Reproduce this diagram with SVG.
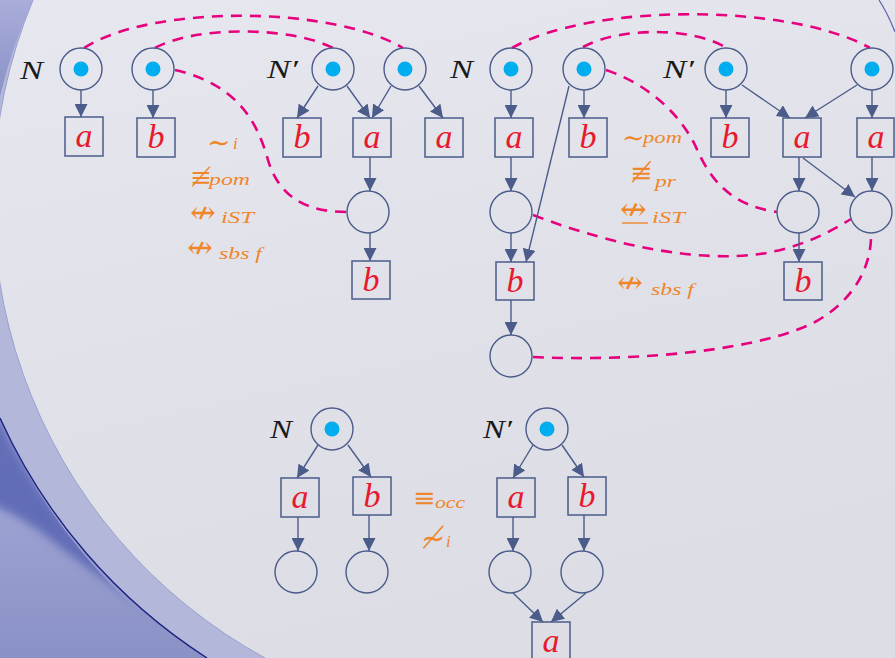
<svg xmlns="http://www.w3.org/2000/svg" width="895" height="658" viewBox="0 0 895 658">
  <defs>
    <linearGradient id="paper" x1="0" y1="0" x2="0.3" y2="1">
      <stop offset="0" stop-color="#e7e7ef"/>
      <stop offset="0.6" stop-color="#e0e1e8"/>
      <stop offset="1" stop-color="#dcdde5"/>
    </linearGradient>
    <linearGradient id="outer" x1="0" y1="0" x2="0" y2="1">
      <stop offset="0" stop-color="#a9addb"/>
      <stop offset="1" stop-color="#8a91c5"/>
    </linearGradient>
    <filter id="soft" x="-20%" y="-20%" width="140%" height="140%">
      <feGaussianBlur stdDeviation="4"/>
    </filter>
    <clipPath id="beyond">
      <path d="M0,418 A557,557 0 0 0 198,658 L0,658 Z"/>
    </clipPath>
    <marker id="ah" markerUnits="userSpaceOnUse" viewBox="0 0 13 13" markerWidth="13" markerHeight="13" refX="13" refY="6.5" orient="auto">
      <path d="M0,0 L13,6.5 L0,13 z" fill="#4b5b8a"/>
    </marker>
    <style>
      .edge { stroke: #4b5b8a; stroke-width: 1.4; fill: none; marker-end: url(#ah); }
      .place { fill: none; stroke: #4b5b8a; stroke-width: 1.4; }
      .tok { fill: #00aeef; }
      .trans { fill: none; stroke: #4b5b8a; stroke-width: 1.5; }
      .lbl { font-family: "Liberation Serif", serif; font-style: italic; font-size: 34px; fill: #e8192c; text-anchor: middle; }
      .net { font-family: "Liberation Serif", serif; font-style: italic; font-size: 25px; fill: #1a1a1a; }
      .sym { font-family: "DejaVu Sans ExtraLight", "DejaVu Serif", "DejaVu Sans", sans-serif; font-weight: 200; fill: #f0862a; }
      .sub { font-family: "Liberation Serif", serif; font-style: italic; font-size: 17px; fill: #f0862a; }
      .link { fill: none; stroke: #e6007e; stroke-width: 2.6; stroke-dasharray: 11 8; }
    </style>
  </defs>

  <!-- backdrop: pale page with the blue swoosh on the left edge -->
  <rect x="0" y="0" width="895" height="658" fill="url(#paper)"/>
  <path d="M0,0 L33,0 A522,522 0 0 0 265,658 L0,658 Z" fill="#b3b7da"/>
  <path d="M0,418 A557,557 0 0 0 207,658 L0,658 Z" fill="url(#outer)"/>
  <path d="M0,0 L33,0 A522,522 0 0 0 0,96 Z" fill="url(#outer)"/>
  <g clip-path="url(#beyond)">
    <path d="M-20,410 L0,418 A557,557 0 0 0 160,618 Q95,575 45,535 Q15,512 -20,500 Z" fill="#5361b0" opacity="0.8" filter="url(#soft)"/>
  </g>
  <path d="M0,418 A557,557 0 0 0 207,658" fill="none" stroke="#1d2280" stroke-width="1.4"/>
  <path d="M33,0 A522,522 0 0 0 265,658" fill="none" stroke="#9aa0d0" stroke-width="1"/>
  <path d="M879,0 Q888,14 895,32" fill="none" stroke="#5a64b2" stroke-width="1.2"/>

  <!-- dashed correspondences -->
  <g id="links">
    <path class="link" d="M84,48 C150,5 330,5 403,48"/>
    <path class="link" d="M155,48 C195,26 290,26 333,48"/>
    <path class="link" d="M175,70 C240,85 258,125 268,160 C280,200 310,212 347,212"/>
    <path class="link" d="M512,48 C590,3 790,3 870,48"/>
    <path class="link" d="M583,47 C620,27 690,27 725,47"/>
    <path class="link" d="M606,70 C650,85 680,115 695,145 C710,180 730,205 777,212"/>
    <path class="link" d="M533,215 C620,248 700,262 760,254 C800,248 830,232 851,219"/>
    <path class="link" d="M533,357 C640,362 760,350 815,322 C855,300 872,265 871,233"/>
  </g>

  <!-- arcs -->
  <g id="connectors">
    <path class="edge" d="M81,90 L81,117"/>
    <path class="edge" d="M153,90 L153,118"/>

    <path class="edge" d="M318,86 L297,118"/>
    <path class="edge" d="M347,86 L370,118"/>
    <path class="edge" d="M391,86 L372,118"/>
    <path class="edge" d="M419,86 L443,118"/>
    <path class="edge" d="M370,157 L370,191"/>
    <path class="edge" d="M370,233 L370,261"/>

    <path class="edge" d="M511,90 L511,118"/>
    <path class="edge" d="M584,90 L584,118"/>
    <path class="edge" d="M569,86 L526,262"/>
    <path class="edge" d="M511,157 L511,191"/>
    <path class="edge" d="M511,233 L511,262"/>
    <path class="edge" d="M511,300 L511,335"/>

    <path class="edge" d="M726,90 L726,118"/>
    <path class="edge" d="M742,85 L790,118"/>
    <path class="edge" d="M857,85 L805,118"/>
    <path class="edge" d="M872,90 L872,118"/>
    <path class="edge" d="M799,157 L799,191"/>
    <path class="edge" d="M803,158 L855,197"/>
    <path class="edge" d="M872,157 L872,191"/>
    <path class="edge" d="M799,233 L799,262"/>

    <path class="edge" d="M318,445 L297,478"/>
    <path class="edge" d="M348,445 L371,477"/>
    <path class="edge" d="M298,517 L298,551"/>
    <path class="edge" d="M369,515 L369,551"/>

    <path class="edge" d="M533,445 L513,478"/>
    <path class="edge" d="M562,445 L584,477"/>
    <path class="edge" d="M513,517 L513,551"/>
    <path class="edge" d="M584,515 L584,551"/>
    <path class="edge" d="M513,593 L543,622"/>
    <path class="edge" d="M586,593 L551,622"/>
  </g>

  <!-- net labels -->
  <text class="net" x="20" y="79" textLength="23" lengthAdjust="spacingAndGlyphs">N</text>
  <text class="net" x="267" y="78" textLength="31" lengthAdjust="spacingAndGlyphs">N′</text>
  <text class="net" x="450" y="78" textLength="23" lengthAdjust="spacingAndGlyphs">N</text>
  <text class="net" x="663" y="78" textLength="31" lengthAdjust="spacingAndGlyphs">N′</text>
  <text class="net" x="270" y="438" textLength="22" lengthAdjust="spacingAndGlyphs">N</text>
  <text class="net" x="483" y="438" textLength="29" lengthAdjust="spacingAndGlyphs">N′</text>

  <!-- places -->
  <g id="p1"><circle class="place" cx="81" cy="69" r="21"/><circle class="tok" cx="81" cy="69" r="7.5"/></g>
  <g id="p2"><circle class="place" cx="153" cy="69" r="21"/><circle class="tok" cx="153" cy="69" r="7.5"/></g>
  <g id="p3"><circle class="place" cx="333" cy="69" r="21"/><circle class="tok" cx="333" cy="69" r="7.5"/></g>
  <g id="p4"><circle class="place" cx="405" cy="69" r="21"/><circle class="tok" cx="405" cy="69" r="7.5"/></g>
  <g id="p5"><circle class="place" cx="368" cy="212" r="21"/></g>

  <g id="q1"><circle class="place" cx="511" cy="69" r="21"/><circle class="tok" cx="511" cy="69" r="7.5"/></g>
  <g id="q2"><circle class="place" cx="584" cy="69" r="21"/><circle class="tok" cx="584" cy="69" r="7.5"/></g>
  <g id="q3"><circle class="place" cx="511" cy="212" r="21"/></g>
  <g id="q4"><circle class="place" cx="511" cy="356" r="21"/></g>

  <g id="r1"><circle class="place" cx="726" cy="69" r="21"/><circle class="tok" cx="726" cy="69" r="7.5"/></g>
  <g id="r2"><circle class="place" cx="872" cy="69" r="21"/><circle class="tok" cx="872" cy="69" r="7.5"/></g>
  <g id="r3"><circle class="place" cx="798" cy="212" r="21"/></g>
  <g id="r4"><circle class="place" cx="871" cy="212" r="21"/></g>

  <g id="s1"><circle class="place" cx="332" cy="429" r="21"/><circle class="tok" cx="332" cy="429" r="7.5"/></g>
  <g id="s2"><circle class="place" cx="296" cy="572" r="21"/></g>
  <g id="s3"><circle class="place" cx="367" cy="572" r="21"/></g>

  <g id="t1"><circle class="place" cx="547" cy="429" r="21"/><circle class="tok" cx="547" cy="429" r="7.5"/></g>
  <g id="t2"><circle class="place" cx="510" cy="572" r="21"/></g>
  <g id="t3"><circle class="place" cx="582" cy="572" r="21"/></g>

  <!-- transitions -->
  <g id="ta1"><rect class="trans" x="65" y="117" width="38" height="39"/><text class="lbl" x="84" y="147">a</text></g>
  <g id="tb1"><rect class="trans" x="137" y="118" width="38" height="39"/><text class="lbl" x="156" y="148">b</text></g>

  <g id="tb2"><rect class="trans" x="283" y="118" width="38" height="39"/><text class="lbl" x="302" y="148">b</text></g>
  <g id="ta2"><rect class="trans" x="353" y="118" width="38" height="39"/><text class="lbl" x="372" y="148">a</text></g>
  <g id="ta3"><rect class="trans" x="425" y="118" width="38" height="39"/><text class="lbl" x="444" y="148">a</text></g>
  <g id="tb3"><rect class="trans" x="352" y="261" width="38" height="38"/><text class="lbl" x="371" y="291">b</text></g>

  <g id="ta4"><rect class="trans" x="495" y="118" width="38" height="39"/><text class="lbl" x="514" y="148">a</text></g>
  <g id="tb4"><rect class="trans" x="569" y="118" width="38" height="39"/><text class="lbl" x="588" y="148">b</text></g>
  <g id="tb5"><rect class="trans" x="496" y="262" width="38" height="38"/><text class="lbl" x="515" y="292">b</text></g>

  <g id="tb6"><rect class="trans" x="711" y="118" width="38" height="39"/><text class="lbl" x="730" y="148">b</text></g>
  <g id="ta5"><rect class="trans" x="783" y="118" width="38" height="39"/><text class="lbl" x="802" y="148">a</text></g>
  <g id="ta6"><rect class="trans" x="857" y="118" width="37" height="39"/><text class="lbl" x="876" y="148">a</text></g>
  <g id="tb7"><rect class="trans" x="784" y="262" width="38" height="38"/><text class="lbl" x="803" y="292">b</text></g>

  <g id="ta7"><rect class="trans" x="281" y="478" width="38" height="39"/><text class="lbl" x="300" y="508">a</text></g>
  <g id="tb8"><rect class="trans" x="353" y="477" width="38" height="38"/><text class="lbl" x="372" y="507">b</text></g>

  <g id="ta8"><rect class="trans" x="497" y="478" width="38" height="39"/><text class="lbl" x="516" y="508">a</text></g>
  <g id="tb9"><rect class="trans" x="568" y="477" width="38" height="38"/><text class="lbl" x="587" y="507">b</text></g>
  <g id="ta9"><rect class="trans" x="532" y="622" width="38" height="38"/><text class="lbl" x="551" y="652">a</text></g>

  <!-- relation annotations -->
  <g id="rel-left">
    <text class="sym" x="207" y="152" font-size="28">∼</text>
    <text class="sub" x="233" y="149" font-size="16">i</text>
    <text class="sym" x="190" y="186" font-size="26">≢</text>
    <text class="sub" x="209" y="185" textLength="41" lengthAdjust="spacingAndGlyphs">pom</text>
    <text class="sym" x="190" y="223" font-size="31">↮</text>
    <text class="sub" x="221" y="223" textLength="33" lengthAdjust="spacingAndGlyphs">iST</text>
    <text class="sym" x="187" y="258" font-size="31">↮</text>
    <text class="sub" x="219" y="259" textLength="43" lengthAdjust="spacingAndGlyphs">sbs f</text>
  </g>

  <g id="rel-right">
    <text class="sym" x="622" y="147" font-size="27">∼</text>
    <text class="sub" x="643" y="143" textLength="39" lengthAdjust="spacingAndGlyphs">pom</text>
    <text class="sym" x="630" y="182" font-size="27">≢</text>
    <text class="sub" x="655" y="187" textLength="21" lengthAdjust="spacingAndGlyphs">pr</text>
    <text class="sym" x="620" y="220" font-size="32">↮</text>
    <line x1="622" y1="223" x2="648" y2="223" stroke="#f0862a" stroke-width="1.4"/>
    <text class="sub" x="652" y="223" textLength="33" lengthAdjust="spacingAndGlyphs">iST</text>
    <text class="sym" x="617" y="293" font-size="31">↮</text>
    <text class="sub" x="651" y="295" textLength="43" lengthAdjust="spacingAndGlyphs">sbs f</text>
  </g>

  <g id="rel-bottom">
    <text class="sym" x="413" y="507" font-size="27">≡</text>
    <text class="sub" x="435" y="508" textLength="30" lengthAdjust="spacingAndGlyphs">occ</text>
    <text class="sym" x="421" y="548" font-size="29">≁</text>
    <text class="sub" x="446" y="547" font-size="16">i</text>
  </g>
</svg>
